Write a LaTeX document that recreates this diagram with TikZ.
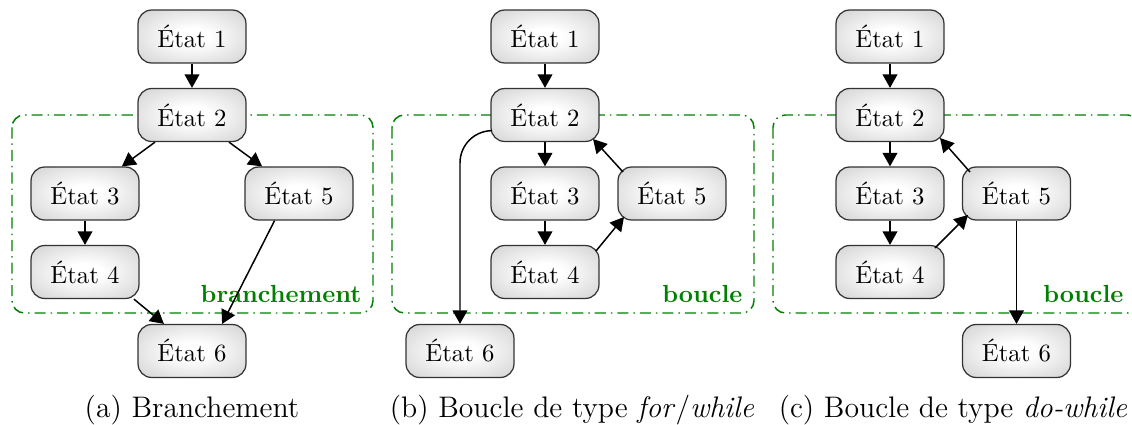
\documentclass[tikz,border=0pt]{standalone}
\usetikzlibrary{arrows.meta}
\definecolor{boxgreen}{RGB}{0,128,0}
\pgfdeclareradialshading{stateshade}{\pgfpoint{0bp}{0bp}}{%
  color(0bp)=(white); color(8bp)=(white); color(30bp)=(black!14);
  color(50bp)=(black!32)}
\tikzset{
  state/.style={draw=black!80, line width=0.5pt, rounded corners=5.5pt,
    shading=stateshade, minimum width=43.6pt,
    minimum height=21.4pt, inner sep=0pt},
  arr/.style={line width=0.6pt, -{Triangle[length=5.5pt,width=6pt]}},
  loopbox/.style={draw=boxgreen, line width=0.6pt, rounded corners=5pt,
    dash pattern=on 4.5pt off 2pt on 0.6pt off 2pt},
  looplabel/.style={text=boxgreen, font=\bfseries, anchor=base east, inner sep=0pt},
  caption/.style={font=\fontsize{12}{14}\selectfont, inner sep=0pt}
}
\begin{document}
\begin{tikzpicture}[x=0.404pt,y=-0.404pt]
\useasboundingbox (0,0) rectangle (1132,425);
% ---------- (a)
\draw[loopbox] (12,115) rectangle (373,313);
\node[looplabel] (la) at (362,302) {branchement};
\node[state] (a1) at (192,36.5) {État 1};
\node[state] (a2) at (192,115) {État 2};
\node[state] (a3) at (85,193.5) {État 3};
\node[state] (a5) at (299,193.5) {État 5};
\node[state] (a4) at (85,272) {État 4};
\node[state] (a6) at (192,351) {État 6};
\draw[arr] (a1) -- (a2);
\draw[arr] (a2) -- (a3);
\draw[arr] (a2) -- (a5);
\draw[arr] (a3) -- (a4);
\draw[arr] (a4.-29) -- (a6.136);
\draw[arr] (a5.-132) -- (a6.42);
\node[caption] (ca) at (192,410) {(a) Branchement};
% ---------- (b)
\draw[loopbox] (392,115) rectangle (754,313);
\node[looplabel] (lb) at (743,302) {boucle};
\node[state] (b1) at (545,36.5) {État 1};
\node[state] (b2) at (545,115) {État 2};
\node[state] (b3) at (545,193.5) {État 3};
\node[state] (b4) at (545,272) {État 4};
\node[state] (b5) at (672,193.5) {État 5};
\node[state] (b6) at (460,351) {État 6};
\draw[arr] (b1) -- (b2);
\draw[arr] (b2) -- (b3);
\draw[arr] (b3) -- (b4);
\draw[arr] ([shift={(51,-21)}]b4.center) -- ([shift={(-48,23.5)}]b5.center);
\draw[arr] ([shift={(-49,-21.5)}]b5.center) -- ([shift={(48,24)}]b2.center);
\draw[arr, rounded corners=13pt] (b2.196) -| (b6.north);
\node[caption] (cb) at (572,410) {(b) Boucle de type \textit{for}/\textit{while}};
% ---------- (c)
\draw[loopbox] (773,115) rectangle (1140,313);
\node[looplabel] (lc) at (1124,302) {boucle};
\node[state] (c1) at (890,36.5) {État 1};
\node[state] (c2) at (890,115) {État 2};
\node[state] (c3) at (890,193.5) {État 3};
\node[state] (c4) at (890,272) {État 4};
\node[state] (c5) at (1016.5,193.5) {État 5};
\node[state] (c6) at (1016.5,351) {État 6};
\draw[arr] (c1) -- (c2);
\draw[arr] (c2) -- (c3);
\draw[arr] (c3) -- (c4);
\draw[arr] ([shift={(45,-24)}]c4.center) -- ([shift={(-48.5,21.5)}]c5.center);
\draw[arr] ([shift={(-46.5,-21.5)}]c5.center) -- ([shift={(50,23)}]c2.center);
\draw[arr] (c5) -- (c6);
\node[caption] (cc) at (953,410) {(c) Boucle de type \textit{do-while}};
\end{tikzpicture}
\end{document}
